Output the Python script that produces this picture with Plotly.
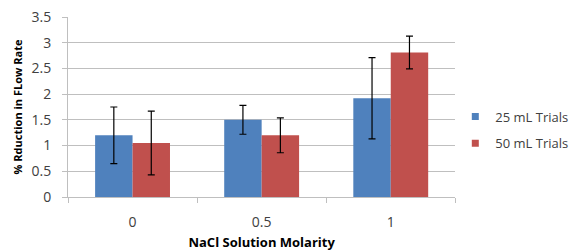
import plotly.graph_objects as go

categories = ["0", "0.5", "1"]
trials_25 = [1.20, 1.50, 1.92]
err_25 = [0.55, 0.28, 0.79]
trials_50 = [1.05, 1.20, 2.81]
err_50 = [0.62, 0.34, 0.32]
series_names = ["25 mL Trials", "50 mL Trials"]
series_colors = ["#4F81BD", "#C0504D"]
y_ticks = [0, 0.5, 1, 1.5, 2, 2.5, 3, 3.5]
y_tick_text = ["0", "0.5", "1", "1.5", "2", "2.5", "3", "3.5"]

font_family = "Open Sans, Lato, sans-serif"

fig = go.Figure()
for vals, errs, name, color in [(trials_25, err_25, series_names[0], series_colors[0]),
                                (trials_50, err_50, series_names[1], series_colors[1])]:
    fig.add_trace(go.Bar(
        x=categories, y=vals, name=name, showlegend=False,
        marker=dict(color=color, line=dict(width=0)),
        error_y=dict(type="data", array=errs, visible=True, color="#000000", thickness=1.2, width=3.5),
    ))
# legend entries with small square swatches
for name, color in zip(series_names, series_colors):
    fig.add_trace(go.Scatter(
        x=[None], y=[None], mode="markers", name=name, legendgroup=name,
        marker=dict(symbol="square", size=7, color=color),
    ))

fig.update_layout(
    width=572, height=244,
    margin=dict(l=60, r=123, t=9, b=55),
    paper_bgcolor="white", plot_bgcolor="white",
    barmode="group", bargap=0.42, bargroupgap=0,
    font=dict(family=font_family, color="#404040", size=13),
    showlegend=True,
    legend=dict(xref="container", yref="container", x=0.782, y=0.5,
                xanchor="left", yanchor="middle",
                font=dict(size=13, color="#404040"), itemwidth=30,
                tracegroupgap=7, bgcolor="rgba(0,0,0,0)"),
    xaxis=dict(
        type="category", showgrid=False, showline=True, linecolor="#BFBFBF", linewidth=1,
        ticks="outside", tickson="boundaries", ticklen=5, tickcolor="#BFBFBF",
        tickfont=dict(size=14, color="#404040"), automargin=False, ticklabelstandoff=12,
        title=dict(text="<b>NaCl Solution Molarity</b>", font=dict(size=13, color="#000000"), standoff=8),
    ),
    yaxis=dict(
        range=[0, 3.5], tickvals=y_ticks, ticktext=y_tick_text,
        showgrid=True, gridcolor="#BFBFBF", gridwidth=1,
        showline=True, linecolor="#BFBFBF", linewidth=1,
        ticks="outside", ticklen=5, tickcolor="#BFBFBF",
        tickfont=dict(size=14, color="#404040"), automargin=False, ticklabelstandoff=8,
        ticklabeloverflow="allow",
        zeroline=False,
        title=dict(text="<b>% Rduction in FLow Rate</b>", font=dict(size=11, color="#000000"), standoff=6),
    ),
)

fig.write_html("out.html")
